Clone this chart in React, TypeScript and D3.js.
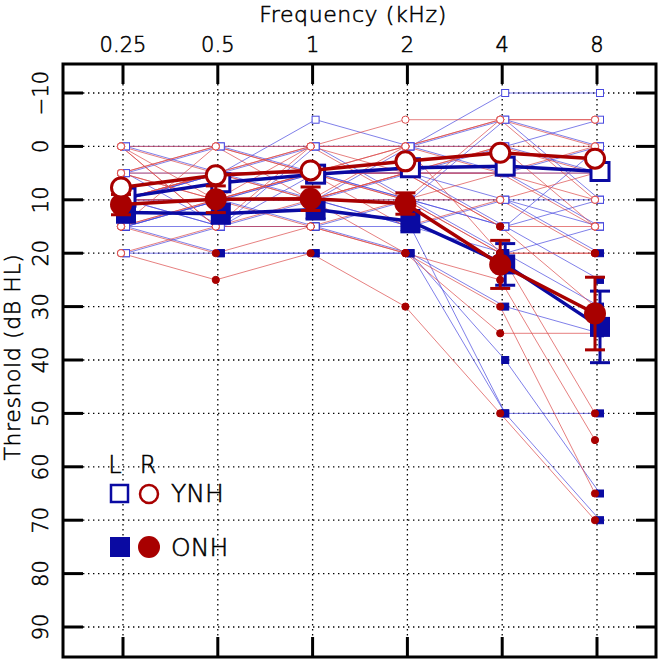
import React, { useRef, useEffect } from "react";
import * as d3 from "d3";

const freqs = [0.25, 0.5, 1, 2, 4, 8];
const freqLabels = ["0.25", "0.5", "1", "2", "4", "8"];
const dbTicks = [-10, 0, 10, 20, 30, 40, 50, 60, 70, 80, 90];

// group means (dB HL)
const ynhLeft = [9.5, 6.8, 5.2, 4.0, 3.7, 4.7];
const ynhRight = [7.7, 5.4, 4.5, 2.8, 1.2, 2.3];
const onhLeft = [12.4, 12.6, 11.8, 14.0, 22.1, 33.8];
const onhRight = [10.9, 9.9, 9.8, 10.7, 22.1, 31.3];
const onhLeftSe = [1.8, 1.8, 1.8, 2.0, 3.9, 6.7];
const onhRightSe = [1.9, 2.5, 2.2, 2.0, 4.5, 6.8];

// individual listeners
const ynhSubjLeft = [
  [0, 0, 0, 0, -10, -10],
  [5, 5, 0, 0, -5, 0],
  [10, 5, -5, 0, 0, 5],
  [15, 10, 10, 5, 10, 15],
  [20, 15, 15, 10, 10, 10],
  [10, 5, 5, 5, 5, 5],
  [5, 0, 5, 5, 0, -5],
  [15, 10, 5, 5, 15, 10],
  [10, 15, 5, 10, 15, 0],
  [0, 5, 10, 0, 5, 15],
  [5, 15, 0, 10, -5, 10],
];
const ynhSubjRight = [
  [0, 0, 0, 0, -5, -5],
  [5, 0, 5, 5, 0, 0],
  [10, 5, 0, -5, -5, 0],
  [15, 10, 10, 5, 5, 10],
  [20, 15, 15, 10, 5, 5],
  [0, 5, 0, 0, 0, 5],
  [5, 0, 5, 0, -5, -5],
  [10, 5, 5, 5, 5, 0],
  [5, 10, 0, 5, 0, 15],
  [0, 10, 5, 15, 10, 5],
  [15, 0, 10, 0, 5, 15],
  [0, 15, 0, 10, -5, 10],
];
const onhSubjLeft = [
  [15, 15, 15, 20, 30, 35],
  [20, 20, 20, 20, 50, 70],
  [10, 15, 10, 15, 20, 15],
  [15, 20, 20, 20, 40, 65],
  [10, 10, 5, 10, 20, 30],
  [10, 10, 15, 15, 50, 50],
  [10, 10, 10, 10, 15, 25],
  [15, 10, 10, 15, 10, 20],
  [10, 5, 5, 5, 5, 0],
];
const onhSubjRight = [
  [10, 10, 15, 20, 35, 35],
  [20, 25, 20, 30, 50, 70],
  [10, 10, 5, 10, 20, 20],
  [15, 20, 15, 20, 30, 65],
  [5, 5, 10, 5, 15, 30],
  [10, 5, 10, 20, 25, 55],
  [5, 10, 5, 10, 10, 20],
  [15, 10, 10, 5, 15, 15],
  [10, 5, 5, 0, 20, 50],
  [0, 15, 10, 10, 20, 20],
];

const BLUE = "#0a0aa2";
const RED = "#a80000";
const FONT = "'DejaVu Sans', sans-serif";
const WEIGHT = 200;

// thin font, slightly thickened with a stroke
function styleText(t: any, size: number) {
  return t
    .attr("font-family", FONT)
    .attr("font-weight", WEIGHT)
    .attr("font-size", size)
    .attr("fill", "#000")
    .attr("stroke", "#000")
    .attr("stroke-width", 0.55);
}

export default function App() {
  const ref = useRef<SVGSVGElement>(null);

  useEffect(() => {
    const svg = d3.select(ref.current);
    svg.selectAll("*").remove();

    const left = 63, right = 656, top = 64, bottom = 657;
    const x = d3.scaleLog().base(2).domain([0.25, 8]).range([123, 597]);
    const y = d3.scaleLinear().domain([-10, 90]).range([93, 627]);
    const offL = 3, offR = -2;
    const tickLen = 20;

    // grid
    const grid = svg.append("g")
      .attr("stroke", "#000")
      .attr("stroke-width", 1.3)
      .attr("stroke-dasharray", "1.4,3.6");
    dbTicks.forEach(d => {
      grid.append("line")
        .attr("x1", left + tickLen).attr("x2", right - tickLen)
        .attr("y1", y(d)).attr("y2", y(d));
    });
    freqs.forEach(f => {
      grid.append("line")
        .attr("x1", x(f)).attr("x2", x(f))
        .attr("y1", top + tickLen).attr("y2", bottom - tickLen);
    });

    // ticks
    const ticks = svg.append("g").attr("stroke", "#000").attr("stroke-width", 3);
    dbTicks.forEach(d => {
      ticks.append("line").attr("x1", left).attr("x2", left + tickLen).attr("y1", y(d)).attr("y2", y(d));
      ticks.append("line").attr("x1", right - tickLen).attr("x2", right).attr("y1", y(d)).attr("y2", y(d));
    });
    freqs.forEach(f => {
      ticks.append("line").attr("x1", x(f)).attr("x2", x(f)).attr("y1", top).attr("y2", top + tickLen);
      ticks.append("line").attr("x1", x(f)).attr("x2", x(f)).attr("y1", bottom - tickLen).attr("y2", bottom);
    });

    // tick labels
    freqs.forEach((f, i) => {
      styleText(svg.append("text"), 21)
        .attr("x", x(f)).attr("y", 52)
        .attr("text-anchor", "middle")
        .text(freqLabels[i]);
    });
    dbTicks.forEach(d => {
      styleText(svg.append("text"), 21)
        .attr("transform", `translate(48,${y(d)}) rotate(-90)`)
        .attr("text-anchor", "middle")
        .text(d < 0 ? "\u2212" + Math.abs(d) : String(d));
    });

    // axis titles
    styleText(svg.append("text"), 22)
      .attr("x", 353).attr("y", 22)
      .attr("text-anchor", "middle")
      .attr("letter-spacing", 0.6)
      .text("Frequency (kHz)");
    styleText(svg.append("text"), 22)
      .attr("transform", "translate(20,357) rotate(-90)")
      .attr("text-anchor", "middle")
      .attr("letter-spacing", 0.6)
      .text("Threshold (dB HL)");

    // individual data
    const thin = (subjects: number[][], off: number, col: string) => {
      const ln = d3.line<number>().x((_, i) => x(freqs[i]) + off).y(v => y(v));
      subjects.forEach(s => {
        svg.append("path")
          .attr("d", ln(s))
          .attr("fill", "none")
          .attr("stroke", col)
          .attr("stroke-opacity", 0.7)
          .attr("stroke-width", 1);
      });
    };
    thin(ynhSubjLeft, offL, "#4a4ae0");
    thin(onhSubjLeft, offL, "#4a4ae0");
    thin(ynhSubjRight, offR, "#dc4a4a");
    thin(onhSubjRight, offR, "#dc4a4a");

    const smallSquares = (subjects: number[][], open: boolean) => {
      subjects.forEach(s => s.forEach((v, i) => {
        svg.append("rect")
          .attr("x", x(freqs[i]) + offL - 3.5).attr("y", y(v) - 3.5)
          .attr("width", 7).attr("height", 7)
          .attr("fill", open ? "#fff" : BLUE)
          .attr("stroke", open ? "#4a4ae0" : BLUE)
          .attr("stroke-width", 1);
      }));
    };
    const smallCircles = (subjects: number[][], open: boolean) => {
      subjects.forEach(s => s.forEach((v, i) => {
        svg.append("circle")
          .attr("cx", x(freqs[i]) + offR).attr("cy", y(v)).attr("r", 3.6)
          .attr("fill", open ? "#fff" : RED)
          .attr("stroke", open ? "#dc4a4a" : RED)
          .attr("stroke-width", 1);
      }));
    };
    smallSquares(onhSubjLeft, false);
    smallSquares(ynhSubjLeft, true);
    smallCircles(onhSubjRight, false);
    smallCircles(ynhSubjRight, true);

    // group means
    const meanLine = (vals: number[], off: number, col: string) => {
      const ln = d3.line<number>().x((_, i) => x(freqs[i]) + off).y(v => y(v));
      svg.append("path")
        .attr("d", ln(vals))
        .attr("fill", "none")
        .attr("stroke", col)
        .attr("stroke-width", 3.5);
    };
    const errBars = (vals: number[], se: number[], off: number, col: string) => {
      const g = svg.append("g").attr("stroke", col).attr("stroke-width", 3);
      vals.forEach((v, i) => {
        const cx = x(freqs[i]) + off;
        g.append("line").attr("x1", cx).attr("x2", cx).attr("y1", y(v - se[i])).attr("y2", y(v + se[i]));
        [v - se[i], v + se[i]].forEach(e => {
          g.append("line").attr("x1", cx - 10).attr("x2", cx + 10).attr("y1", y(e)).attr("y2", y(e));
        });
      });
    };
    const bigSquares = (vals: number[], open: boolean) => {
      vals.forEach((v, i) => {
        const s = open ? 18 : 20;
        svg.append("rect")
          .attr("x", x(freqs[i]) + offL - s / 2).attr("y", y(v) - s / 2)
          .attr("width", s).attr("height", s)
          .attr("fill", open ? "#fff" : BLUE)
          .attr("stroke", open ? BLUE : "none")
          .attr("stroke-width", 3);
      });
    };
    const bigCircles = (vals: number[], open: boolean) => {
      vals.forEach((v, i) => {
        svg.append("circle")
          .attr("cx", x(freqs[i]) + offR).attr("cy", y(v))
          .attr("r", open ? 9.5 : 11)
          .attr("fill", open ? "#fff" : RED)
          .attr("stroke", open ? RED : "none")
          .attr("stroke-width", 3);
      });
    };

    meanLine(onhLeft, offL, BLUE);
    meanLine(ynhLeft, offL, BLUE);
    errBars(onhLeft, onhLeftSe, offL, BLUE);
    bigSquares(onhLeft, false);
    bigSquares(ynhLeft, true);
    meanLine(onhRight, offR, RED);
    meanLine(ynhRight, offR, RED);
    errBars(onhRight, onhRightSe, offR, RED);
    bigCircles(onhRight, false);
    bigCircles(ynhRight, true);

    // legend
    const lg = svg.append("g");
    styleText(lg.append("text"), 24).attr("x", 115).attr("y", 473).attr("text-anchor", "middle").text("L");
    styleText(lg.append("text"), 24).attr("x", 148).attr("y", 473).attr("text-anchor", "middle").text("R");
    lg.append("rect").attr("x", 111).attr("y", 485).attr("width", 17).attr("height", 17)
      .attr("fill", "#fff").attr("stroke", BLUE).attr("stroke-width", 2.5);
    lg.append("circle").attr("cx", 149).attr("cy", 494).attr("r", 9)
      .attr("fill", "#fff").attr("stroke", RED).attr("stroke-width", 2.5);
    styleText(lg.append("text"), 25).attr("x", 171).attr("y", 502).text("YNH");
    lg.append("rect").attr("x", 110).attr("y", 537).attr("width", 20).attr("height", 20).attr("fill", BLUE);
    lg.append("circle").attr("cx", 149).attr("cy", 547).attr("r", 11).attr("fill", RED);
    styleText(lg.append("text"), 25).attr("x", 171).attr("y", 556).text("ONH");

    // frame
    svg.append("rect")
      .attr("x", left).attr("y", top)
      .attr("width", right - left).attr("height", bottom - top)
      .attr("fill", "none").attr("stroke", "#000").attr("stroke-width", 3);
  }, []);

  return (
    <svg
      ref={ref}
      width={661}
      height={661}
      style={{ position: "absolute", left: 0, top: 0, background: "#fff" }}
    />
  );
}
